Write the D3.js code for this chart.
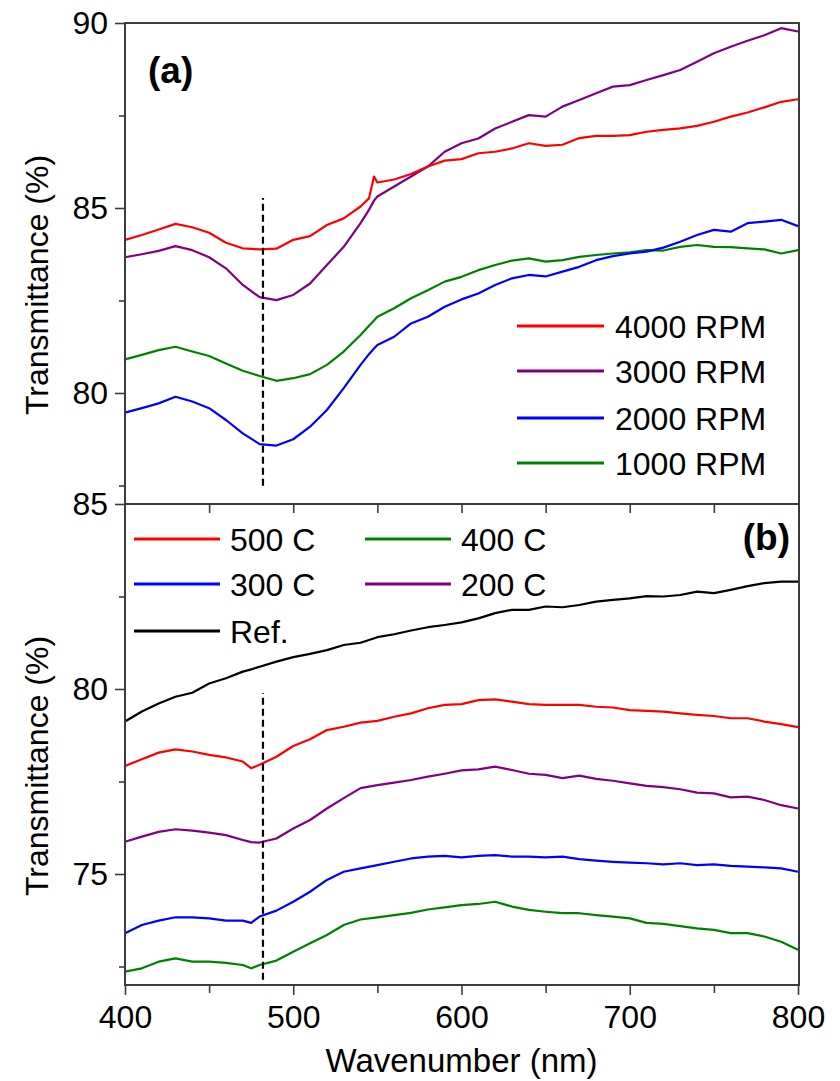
<!DOCTYPE html>
<html><head><meta charset="utf-8">
<script src="https://cdn.jsdelivr.net/npm/d3@7"></script>
<style>
body{margin:0;background:#fff;}
svg text{font-family:"Liberation Sans",Arial,sans-serif;fill:#000;}
</style></head>
<body><svg id="c" width="840" height="1081"></svg>
<script>
// ---------- data ----------
const wavelengthsA = [400,410,420,430,440,450,460,470,480,490,500,510,520,530,540,545,548,550,560,570,580,590,600,610,620,630,640,650,660,670,680,690,700,710,720,730,740,750,760,770,780,790,800];
const rpm4000 = [84.14,84.27,84.42,84.57,84.48,84.33,84.06,83.91,83.88,83.90,84.14,84.24,84.54,84.72,85.04,85.26,85.85,85.69,85.77,85.92,86.12,86.28,86.32,86.48,86.52,86.61,86.75,86.68,86.71,86.89,86.95,86.95,86.97,87.06,87.11,87.15,87.22,87.33,87.47,87.58,87.72,87.87,87.94];
const rpm3000 = [83.67,83.75,83.84,83.97,83.86,83.67,83.37,82.92,82.59,82.51,82.65,82.96,83.46,83.95,84.59,84.95,85.20,85.31,85.58,85.85,86.12,86.52,86.75,86.88,87.15,87.33,87.51,87.47,87.74,87.92,88.10,88.28,88.32,88.46,88.59,88.73,88.95,89.18,89.36,89.52,89.67,89.86,89.77];
const rpm2000 = [79.47,79.59,79.72,79.90,79.77,79.59,79.27,78.91,78.62,78.58,78.75,79.09,79.54,80.13,80.76,81.05,81.20,81.30,81.52,81.88,82.06,82.33,82.53,82.69,82.92,83.10,83.19,83.15,83.28,83.41,83.59,83.70,83.77,83.82,83.93,84.09,84.27,84.41,84.36,84.59,84.63,84.68,84.51];
const rpm1000 = [80.91,81.03,81.16,81.25,81.12,81.00,80.80,80.60,80.46,80.33,80.40,80.51,80.76,81.12,81.57,81.82,81.96,82.06,82.29,82.56,82.78,83.01,83.14,83.32,83.46,83.58,83.64,83.55,83.59,83.68,83.73,83.77,83.80,83.86,83.85,83.95,84.00,83.95,83.94,83.91,83.88,83.77,83.86];

const wavelengthsB = [400,410,420,430,440,450,460,470,475,480,490,500,510,520,530,540,550,560,570,580,590,600,610,620,630,640,650,660,670,680,690,700,710,720,730,740,750,760,770,780,790,800];
const refGlass = [79.12,79.39,79.61,79.79,79.90,80.15,80.29,80.47,80.53,80.60,80.74,80.86,80.95,81.05,81.19,81.25,81.40,81.48,81.58,81.67,81.73,81.80,81.91,82.05,82.14,82.14,82.23,82.21,82.27,82.36,82.41,82.45,82.51,82.50,82.54,82.63,82.59,82.68,82.78,82.86,82.90,82.90];
const temp500 = [77.92,78.10,78.28,78.37,78.31,78.22,78.15,78.04,77.86,77.95,78.17,78.46,78.64,78.89,78.98,79.09,79.14,79.25,79.34,79.48,79.57,79.59,79.70,79.72,79.66,79.59,79.57,79.57,79.57,79.52,79.50,79.43,79.41,79.39,79.34,79.30,79.27,79.21,79.21,79.12,79.05,78.97];
const temp200 = [75.87,76.01,76.14,76.21,76.17,76.12,76.05,75.92,75.86,75.85,75.96,76.23,76.46,76.77,77.05,77.32,77.40,77.47,77.54,77.63,77.71,77.80,77.83,77.90,77.81,77.71,77.68,77.59,77.66,77.57,77.52,77.45,77.38,77.35,77.29,77.20,77.18,77.07,77.09,77.00,76.86,76.77];
const temp300 = [73.40,73.62,73.74,73.83,73.83,73.80,73.74,73.74,73.68,73.85,74.01,74.25,74.52,74.84,75.06,75.15,75.24,75.33,75.42,75.47,75.49,75.45,75.49,75.51,75.47,75.47,75.45,75.47,75.40,75.36,75.33,75.31,75.29,75.26,75.29,75.24,75.26,75.22,75.20,75.18,75.15,75.06];
const temp400 = [72.36,72.45,72.63,72.72,72.63,72.63,72.60,72.54,72.45,72.54,72.66,72.90,73.13,73.35,73.62,73.77,73.83,73.89,73.95,74.04,74.10,74.16,74.19,74.25,74.12,74.03,73.98,73.94,73.94,73.89,73.85,73.80,73.68,73.65,73.59,73.53,73.49,73.40,73.40,73.31,73.17,72.95];

const xTicks = [400,500,600,700,800];
const xMinorTicks = [450,550,650,750];
const yTicksA = [80,85,90], yMinorA = [77.5,82.5,87.5];
const yTicksB = [75,80,85], yMinorB = [72.5,77.5,82.5];
const markerWavelength = 482;
const markerSpanA = [77.49,85.27];
const markerSpanB = [72.14,79.89];

const seriesA = [
  {label:"4000 RPM", values:rpm4000, color:"#ff0000"},
  {label:"3000 RPM", values:rpm3000, color:"#800080"},
  {label:"2000 RPM", values:rpm2000, color:"#0000ff"},
  {label:"1000 RPM", values:rpm1000, color:"#008000"}
];
const seriesB = [
  {label:"500 C", values:temp500, color:"#ff0000"},
  {label:"400 C", values:temp400, color:"#008000"},
  {label:"300 C", values:temp300, color:"#0000ff"},
  {label:"200 C", values:temp200, color:"#800080"},
  {label:"Ref.", values:refGlass, color:"#000000"}
];
const drawOrderB = [4,0,3,2,1];

// ---------- layout ----------
const svg = d3.select("#c");
const L = 125, R = 798;
const topA = 23, botA = 504, topB = 504, botB = 985;
const axisColor = "#3c3c3c";
const x = d3.scaleLinear().domain([400,800]).range([L,R]);
const yA = d3.scaleLinear().domain([77,90]).range([botA,topA]);
const yB = d3.scaleLinear().domain([72,85]).range([botB,topB]);

function drawLines(g, wl, series, y, order){
  const line = d3.line().x((d,i)=>x(wl[i])).y(d=>y(d));
  (order || series.map((d,i)=>i)).forEach(i=>{
    const s = series[i];
    g.append("path").attr("d", line(s.values)).attr("fill","none")
      .attr("stroke", s.color).attr("stroke-width",2.2).attr("stroke-linejoin","round");
  });
}
function styleAxis(g, fs){
  g.selectAll("path.domain").remove();
  g.selectAll(".tick line").attr("stroke",axisColor).attr("stroke-width",1.6);
  g.selectAll(".tick text").attr("font-size",fs).attr("fill","#000")
    .attr("font-family","'Liberation Sans',Arial,sans-serif");
}

// lines
drawLines(svg.append("g"), wavelengthsA, seriesA, yA, [3,2,1,0]);
drawLines(svg.append("g"), wavelengthsB, seriesB, yB, drawOrderB);

// dashed markers
svg.append("line").attr("x1",x(markerWavelength)).attr("x2",x(markerWavelength))
  .attr("y1",yA(markerSpanA[0])).attr("y2",yA(markerSpanA[1]))
  .attr("stroke","#000").attr("stroke-width",2.2).attr("stroke-dasharray","7,4");
svg.append("line").attr("x1",x(markerWavelength)).attr("x2",x(markerWavelength))
  .attr("y1",yB(markerSpanB[0])).attr("y2",yB(markerSpanB[1]))
  .attr("stroke","#000").attr("stroke-width",2.2).attr("stroke-dasharray","7,4");

// y axes
const gA = svg.append("g").attr("transform",`translate(${L},0)`)
  .call(d3.axisLeft(yA).tickValues(yTicksA).tickSize(10).tickPadding(7).tickFormat(d3.format("d")));
styleAxis(gA, 32);
const gAm = svg.append("g").attr("transform",`translate(${L},0)`)
  .call(d3.axisLeft(yA).tickValues(yMinorA).tickSize(6).tickFormat(""));
styleAxis(gAm, 32);
const gB = svg.append("g").attr("transform",`translate(${L},0)`)
  .call(d3.axisLeft(yB).tickValues(yTicksB).tickSize(10).tickPadding(7).tickFormat(d3.format("d")));
styleAxis(gB, 32);
const gBm = svg.append("g").attr("transform",`translate(${L},0)`)
  .call(d3.axisLeft(yB).tickValues(yMinorB).tickSize(6).tickFormat(""));
styleAxis(gBm, 32);

// x axes
const gX = svg.append("g").attr("transform",`translate(0,${botB})`)
  .call(d3.axisBottom(x).tickValues(xTicks).tickSize(10).tickPadding(10).tickFormat(d3.format("d")));
styleAxis(gX, 32);
const gXm = svg.append("g").attr("transform",`translate(0,${botB})`)
  .call(d3.axisBottom(x).tickValues(xMinorTicks).tickSize(8).tickFormat(""));
styleAxis(gXm, 32);
const gMid = svg.append("g").attr("transform",`translate(0,${topB})`)
  .call(d3.axisBottom(x).tickValues(xTicks.concat(xMinorTicks).filter(v=>v>400&&v<800)).tickSize(9).tickFormat(""));
styleAxis(gMid, 32);

// frame
const frame = svg.append("g").attr("stroke",axisColor).attr("stroke-width",2).attr("fill","none");
frame.append("line").attr("x1",L).attr("x2",L).attr("y1",topA-1).attr("y2",botB+1);
frame.append("line").attr("x1",R+1).attr("x2",R+1).attr("y1",topA-1).attr("y2",botB+1);
frame.append("line").attr("x1",L).attr("x2",R+1).attr("y1",topA).attr("y2",topA);
frame.append("line").attr("x1",L).attr("x2",R+1).attr("y1",botA).attr("y2",botA);
frame.append("line").attr("x1",L).attr("x2",R+1).attr("y1",botB).attr("y2",botB);

// titles
svg.append("text").attr("transform",`translate(48,285) rotate(-90)`)
  .attr("text-anchor","middle").attr("font-size",32).text("Transmittance (%)");
svg.append("text").attr("transform",`translate(48,766) rotate(-90)`)
  .attr("text-anchor","middle").attr("font-size",32).text("Transmittance (%)");
svg.append("text").attr("x",(L+R)/2).attr("y",1072).attr("text-anchor","middle")
  .attr("font-size",33).text("Wavenumber (nm)");

// panel labels
svg.append("text").attr("x",148).attr("y",83).attr("font-size",37).attr("font-weight","bold").text("(a)");
svg.append("text").attr("x",790).attr("y",550).attr("text-anchor","end").attr("font-size",37).attr("font-weight","bold").text("(b)");

// legend A
const legA = svg.append("g");
const legAy = [326,371,418,463];
seriesA.forEach((s,i)=>{
  legA.append("line").attr("x1",517).attr("x2",604).attr("y1",legAy[i]).attr("y2",legAy[i])
    .attr("stroke",s.color).attr("stroke-width",3);
  legA.append("text").attr("x",615).attr("y",legAy[i]+11.5).attr("font-size",32).text(s.label);
});
// legend B
const legB = svg.append("g");
const legBpos = [[134,539],[365,539],[134,584],[365,584],[134,631]];
seriesB.forEach((s,i)=>{
  const [lx,ly] = legBpos[i];
  legB.append("line").attr("x1",lx).attr("x2",lx+86).attr("y1",ly).attr("y2",ly)
    .attr("stroke",s.color).attr("stroke-width",3);
  legB.append("text").attr("x",lx+96).attr("y",ly+11.5).attr("font-size",32).text(s.label);
});
</script></body></html>
